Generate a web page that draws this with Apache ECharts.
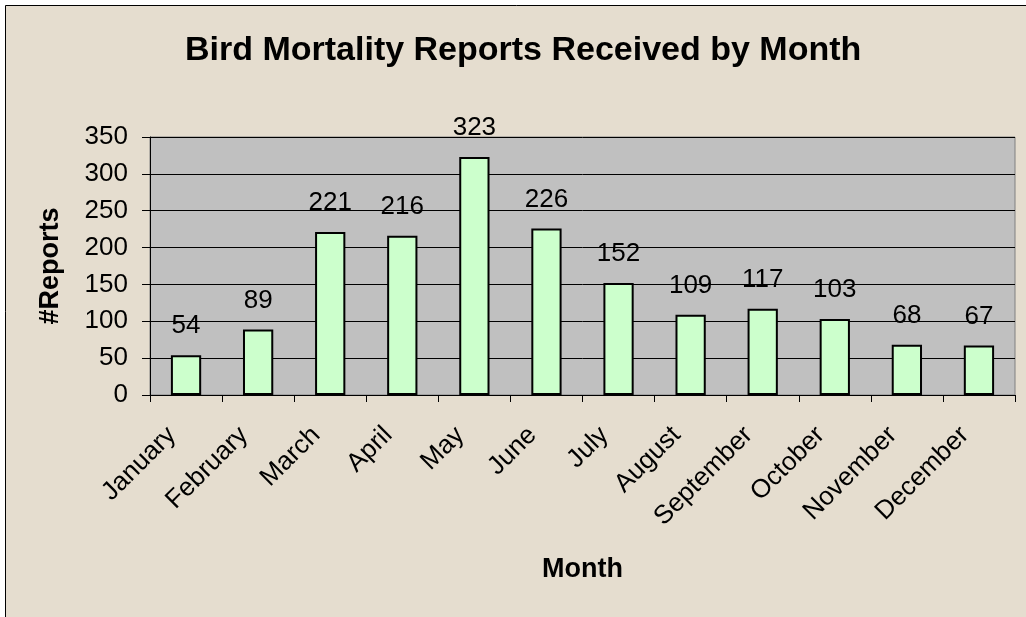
<!DOCTYPE html>
<html lang="en">
<head>
<meta charset="UTF-8">
<title>Bird Mortality Reports Received by Month</title>
<style>
  html, body { margin: 0; padding: 0; background: #fff; }
  #main { width: 1026px; height: 617px; }
</style>
</head>
<body>
<div id="main"></div>
<script src="https://cdn.jsdelivr.net/npm/echarts@6/dist/echarts.min.js"></script>
<script>
  // data
  var months = ['January', 'February', 'March', 'April', 'May', 'June',
                'July', 'August', 'September', 'October', 'November', 'December'];
  var reports = [54, 89, 221, 216, 323, 226, 152, 109, 117, 103, 68, 67];
  var yTicks = [0, 50, 100, 150, 200, 250, 300, 350];

  var font = 'Arial, "Liberation Sans", sans-serif';
  var myChart = echarts.init(document.getElementById('main'));

  var option = {
    backgroundColor: '#fff',
    animation: false,
    graphic: [{
      type: 'rect',
      z: -10,
      silent: true,
      shape: { x: 5.5, y: 5.5, width: 1040, height: 640 },
      style: { fill: '#e5ddcf', stroke: '#000', lineWidth: 1 }
    }],
    title: {
      text: 'Bird Mortality Reports Received by Month',
      left: 185,
      top: 34,
      padding: 0,
      textStyle: { fontFamily: font, fontSize: 34, fontWeight: 'bold', color: '#000' }
    },
    grid: {
      left: 150,
      right: 11,
      top: 137,
      bottom: 222,
      show: true,
      backgroundColor: '#c0c0c0',
      borderColor: '#808080',
      borderWidth: 1
    },
    xAxis: {
      type: 'category',
      data: months,
      name: 'Month',
      nameLocation: 'middle',
      nameGap: 161,
      nameTextStyle: { fontFamily: font, fontSize: 27, fontWeight: 'bold', color: '#000' },
      axisLine: { lineStyle: { color: '#000', width: 1 } },
      axisTick: { show: true, length: 7, lineStyle: { color: '#000' } },
      axisLabel: {
        rotate: 45,
        margin: 22,
        padding: [0, 20, 0, 0],
        fontFamily: font,
        fontSize: 26,
        color: '#000'
      }
    },
    yAxis: {
      type: 'value',
      min: yTicks[0],
      max: yTicks[yTicks.length - 1],
      interval: yTicks[1] - yTicks[0],
      name: '#Reports',
      nameLocation: 'middle',
      nameGap: 86,
      nameTextStyle: { fontFamily: font, fontSize: 27, fontWeight: 'bold', color: '#000' },
      axisLine: { show: true, lineStyle: { color: '#000', width: 1 } },
      axisTick: { show: true, length: 8, lineStyle: { color: '#000' } },
      axisLabel: { margin: 22, fontFamily: font, fontSize: 26, color: '#000' },
      splitLine: { show: true, lineStyle: { color: '#000', width: 1 } }
    },
    series: [{
      name: '#Reports',
      type: 'bar',
      data: reports,
      barWidth: '42%',
      itemStyle: { color: '#ccffcc', borderColor: '#000', borderWidth: 2 },
      label: {
        show: true,
        position: 'top',
        distance: 16,
        fontFamily: font,
        fontSize: 26,
        color: '#000'
      }
    }]
  };

  myChart.setOption(option);
</script>
</body>
</html>
